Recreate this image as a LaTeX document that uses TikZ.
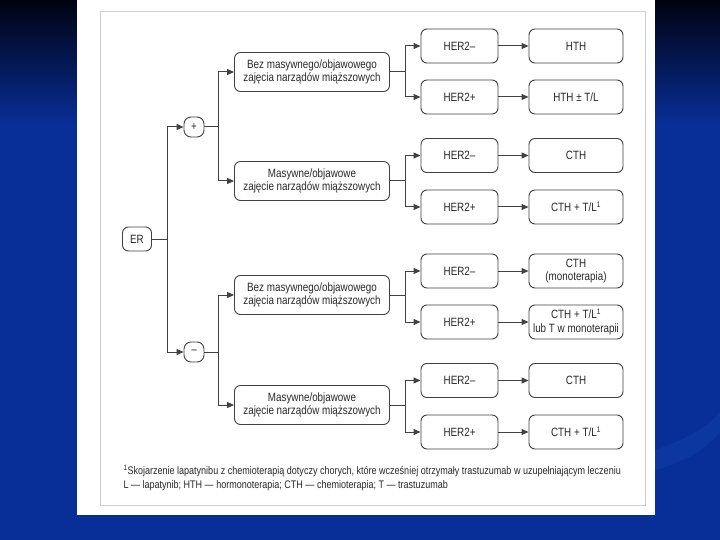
\documentclass[tikz,border=0pt]{standalone}
\usepackage{fontspec}
\setmainfont{Liberation Sans}[FakeStretch=0.82]
\usetikzlibrary{arrows.meta,positioning}

\definecolor{slideDark}{RGB}{0,2,16}
\definecolor{slideBlue}{RGB}{8,46,152}
\definecolor{slideLight}{RGB}{22,70,175}
\definecolor{frameGray}{RGB}{205,205,218}
\definecolor{boxLine}{RGB}{65,65,65}
\definecolor{txtGray}{RGB}{40,40,40}

\tikzset{
  box/.style={draw=boxLine, rounded corners=6pt, line width=0.9pt, align=center,
    text=txtGray, font=\fontsize{12}{13.5}\selectfont, inner sep=0pt},
  signbox/.style={box, minimum width=20pt, minimum height=20pt, rounded corners=7pt},
  midbox/.style={box, minimum width=155pt, minimum height=39pt},
  herbox/.style={box, minimum width=77pt, minimum height=34pt},
  resbox/.style={box, minimum width=94pt, minimum height=34pt},
  link/.style={draw=boxLine, line width=1pt, -{Triangle[length=7pt,width=6pt]}},
}

\begin{document}
\begin{tikzpicture}[x=1pt,y=-1pt]
    \useasboundingbox (0,0) rectangle (720,540);
    % slide background
    \shade[top color=slideDark, bottom color=slideBlue] (0,0) rectangle (720,125);
    \fill[slideBlue] (0,125) rectangle (720,540);
    \fill[slideLight, opacity=0.35] (655,450) .. controls (690,438) and (710,425) .. (720,412)
        -- (720,432) .. controls (705,450) and (685,462) .. (655,470) -- cycle;
    % white panel
    \fill[white] (77,0) rectangle (655,515);
    \draw[frameGray, line width=1pt] (100,12) rectangle (645,505);

    % root and signs
    \node[box, minimum width=29pt, minimum height=24pt] (er) at (137,239) {ER};
    \node[signbox] (plus) at (194,127) {+};
    \node[signbox] (minus) at (194,352) {–};

    % involvement boxes
    \node[midbox] (bezP) at (312,72) {Bez masywnego/objawowego\\zajęcia narządów miąższowych};
    \node[midbox] (masP) at (312,181) {Masywne/objawowe\\zajęcie narządów miąższowych};
    \node[midbox] (bezM) at (312,295) {Bez masywnego/objawowego\\zajęcia narządów miąższowych};
    \node[midbox] (masM) at (312,405) {Masywne/objawowe\\zajęcie narządów miąższowych};

    % HER2 status and treatment
    \foreach \i/\y/\her/\res in {1/46/HER2–/HTH,
                                 2/97/HER2+/{HTH ± T/L},
                                 3/155.5/HER2–/CTH,
                                 4/207/HER2+/{CTH + T/L\textsuperscript{1}},
                                 5/271/HER2–/{CTH\\(monoterapia)},
                                 6/322/HER2+/{CTH + T/L\textsuperscript{1}\\lub T w monoterapii},
                                 7/380.5/HER2–/CTH,
                                 8/432/HER2+/{CTH + T/L\textsuperscript{1}}} {
        \node[herbox] (her\i) at (459.5,\y) {\her};
        \node[resbox] (res\i) at (576,\y) {\res};
        \draw[link] (her\i) -- (res\i);
    }

    % connectors
    \draw[link] (er.east) -- ++(16,0) |- (plus.west);
    \draw[link] (er.east) -- ++(16,0) |- (minus.west);
    \draw[link] (plus.east) -- ++(14,0) |- (bezP.west);
    \draw[link] (plus.east) -- ++(14,0) |- (masP.west);
    \draw[link] (minus.east) -- ++(14,0) |- (bezM.west);
    \draw[link] (minus.east) -- ++(14,0) |- (masM.west);
    \draw[link] (bezP.east) -- ++(16,0) |- (her1.west);
    \draw[link] (bezP.east) -- ++(16,0) |- (her2.west);
    \draw[link] (masP.east) -- ++(16,0) |- (her3.west);
    \draw[link] (masP.east) -- ++(16,0) |- (her4.west);
    \draw[link] (bezM.east) -- ++(16,0) |- (her5.west);
    \draw[link] (bezM.east) -- ++(16,0) |- (her6.west);
    \draw[link] (masM.east) -- ++(16,0) |- (her7.west);
    \draw[link] (masM.east) -- ++(16,0) |- (her8.west);

    % footnote
    \node[anchor=west, align=left, text=txtGray, font=\fontsize{11}{13.5}\selectfont] (note) at (120,478)
        {\textsuperscript{1}Skojarzenie lapatynibu z chemioterapią dotyczy chorych, które wcześniej otrzymały trastuzumab w uzupełniającym leczeniu\\
         L — lapatynib; HTH — hormonoterapia; CTH — chemioterapia; T — trastuzumab};
\end{tikzpicture}
\end{document}
